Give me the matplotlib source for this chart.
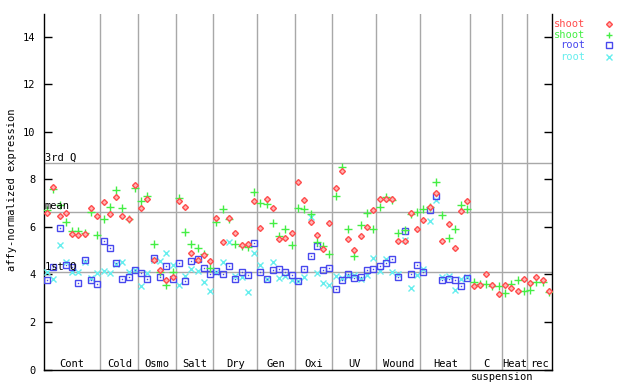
import numpy as np
import matplotlib
matplotlib.use("Agg")
import matplotlib.pyplot as plt
from matplotlib.lines import Line2D
from matplotlib.transforms import blended_transform_factory

# group labels and sizes (number of samples per group)
groups = ["Cont", "Cold", "Osmo", "Salt", "Dry", "Gen", "Oxi", "UV",
          "Wound", "Heat", "C", "Heat", "rec"]
group_sizes = [9, 6, 6, 6, 7, 6, 6, 7, 7, 8, 5, 4, 4]

# quartile / mean reference lines
stat_names = ["3rd Q", "mean", "1st Q"]
stat_values = [8.67, 6.61, 4.09]

shoot_red = [6.57, 7.67, 6.44, 6.57, 5.70, 5.67, 5.70, 6.80, 6.45,
             7.03, 6.54, 7.24, 6.45, 6.31, 7.76,
             6.78, 7.16, 4.60, 4.18, 3.76, 3.89,
             7.07, 6.82, 4.88, 4.60, 4.80, 4.55,
             6.36, 5.35, 6.38, 5.73, 5.22, 5.26, 7.07,
             5.94, 7.16, 6.78, 5.47, 5.52, 5.73,
             7.87, 7.12, 6.20, 5.64, 5.05, 6.15,
             7.62, 8.33, 5.47, 5.01, 5.60, 5.98, 6.69,
             7.16, 7.16, 7.16, 5.39, 5.39, 6.57, 5.89,
             6.27, 6.83, 7.41, 5.39, 6.10, 5.10, 6.65, 7.08,
             3.53, 3.57, 4.00, 3.57, 3.16,
             3.54, 3.41, 3.29, 3.79,
             3.62, 3.88, 3.75, 3.29]

shoot_green = [6.71, 7.60, 6.90, 6.20, 5.84, 5.82, 5.73, 6.62, 5.64,
               6.31, 6.82, 7.53, 6.78, 6.34, 7.62,
               7.07, 7.28, 5.26, 4.11, 3.54, 4.11,
               7.20, 5.77, 5.26, 5.10, 4.84, 4.25,
               6.20, 6.74, 6.31, 5.26, 5.18, 5.14, 7.45,
               6.99, 6.95, 6.15, 5.61, 5.89, 5.22,
               6.78, 6.74, 6.52, 5.35, 5.18, 4.84,
               7.28, 8.50, 5.89, 4.76, 6.06, 6.57, 5.89,
               6.82, 7.24, 7.11, 5.73, 5.85, 6.52, 6.61,
               6.74, 6.85, 7.87, 6.48, 5.52, 5.89, 6.90, 6.74,
               3.67, 3.58, 3.58, 3.50, 3.50,
               3.20, 3.58, 3.75, 3.29,
               3.33, 3.67, 3.67, 3.25]

root_blue = [3.76, 4.30, 5.94, 4.38, 4.30, 3.62, 4.59, 3.75, 3.58,
             5.40, 5.12, 4.49, 3.79, 3.88, 4.17,
             4.04, 3.79, 4.67, 3.88, 4.34, 3.79,
             4.47, 3.71, 4.55, 4.63, 4.25, 4.00,
             4.13, 4.00, 4.34, 3.79, 4.09, 3.96, 5.31,
             4.09, 3.79, 4.17, 4.21, 4.09, 3.96,
             3.71, 4.21, 4.76, 5.18, 4.17, 4.25,
             3.37, 3.75, 4.00, 3.83, 3.88, 4.17, 4.21,
             4.34, 4.47, 4.63, 3.88, 5.81, 4.00, 4.38,
             4.09, 6.69, 7.28, 3.75, 3.79, 3.75, 3.50, 3.83]

root_cyan = [4.10, 3.80, 5.23, 4.51, 4.11, 4.11, 4.51, 3.85, 4.04,
             4.15, 4.05, 4.45, 4.51, 4.11, 4.17,
             3.51, 4.04, 4.62, 4.55, 4.88, 4.38,
             3.54, 3.93, 4.21, 4.13, 3.67, 3.29,
             4.09, 4.51, 5.35, 3.92, 3.88, 3.25, 4.88,
             4.38, 3.79, 4.51, 3.83, 3.92, 3.75,
             3.71, 3.88, 6.43, 4.04, 3.62, 3.54,
             3.92, 3.85, 3.92, 3.96, 3.79, 3.96, 4.67,
             4.13, 4.63, 4.09, 4.00, 5.43, 3.41, 3.96,
             4.21, 6.23, 7.11, 3.88, 3.92, 3.33, 3.79, 3.88]

RED = "#ff4c4c"
GREEN = "#44ee44"
BLUE = "#4848ee"
CYAN = "#66eeee"
GRID = "#a8a8a8"
RED_FILL = "#ffb4b4"

plt.rcParams["font.family"] = ["DejaVu Sans Mono"]
plt.rcParams["font.size"] = 7.5

fig = plt.figure(figsize=(6.4, 3.84), dpi=100)
ax = fig.add_axes([44 / 640, 1 - 369.5 / 384, 508 / 640, 355.5 / 384])

n = len(shoot_red)
x_all = np.arange(n)
x_root = np.arange(len(root_blue))

# group separators
bounds = np.cumsum(group_sizes)[:-1]
for b in bounds:
    ax.axvline(b - 0.5, color=GRID, lw=1, zorder=1)

# stats lines
for name, val in zip(stat_names, stat_values):
    ax.axhline(val, color=GRID, lw=1, zorder=1)
    ax.text(-0.35, val + 0.04, name, ha="left", va="bottom", fontsize=7.5, zorder=5)

ax.plot(x_root, root_cyan, ls="none", marker="x", ms=4, mew=1, color=CYAN, zorder=3)
ax.plot(x_root, root_blue, ls="none", marker="s", ms=4, mew=1, mfc="none", mec=BLUE, zorder=3)
ax.plot(x_root, root_blue, ls="none", marker="s", ms=1, mew=0, color=BLUE, zorder=3)
ax.plot(x_all, shoot_green, ls="none", marker="+", ms=5.5, mew=1, color=GREEN, zorder=4)
ax.plot(x_all, shoot_red, ls="none", marker="D", ms=3, mew=1, mfc=RED_FILL, mec=RED, zorder=4)

ax.set_xlim(-0.5, n - 0.5)
ax.set_ylim(0, 14.95)
ax.set_xticks([])
ax.set_yticks(np.arange(0, 15, 2))
ax.tick_params(axis="y", direction="in", length=6, width=1, left=True, right=True, pad=6)
ax.spines["top"].set_visible(False)
for s in ["left", "right", "bottom"]:
    ax.spines[s].set_linewidth(1)

# group labels inside the bottom of the plot
trans = blended_transform_factory(ax.transData, ax.transAxes)
starts = np.concatenate([[0], bounds])
ends = np.cumsum(group_sizes) - 1
for g, s, e in zip(groups, starts, ends):
    ax.text((s + e) / 2, 0.016, g, transform=trans, ha="center", va="center", fontsize=7.5)
ax.text(bounds[-2] - 0.5, -0.022, "suspension", transform=trans,
        ha="center", va="center", fontsize=7.5)

fig.text(12 / 640, 1 - 190 / 384, "affy-normalized expression", rotation=90,
         ha="center", va="center", fontsize=7.5)

# legend at the top right, outside the axes
leg_names = ["shoot", "shoot", "root", "root"]
leg_colors = [RED, GREEN, BLUE, CYAN]
leg_markers = ["D", "+", "s", "x"]
leg_rows = [24, 34.7, 45.3, 56.7]
for name, col, mk, yp in zip(leg_names, leg_colors, leg_markers, leg_rows):
    yf = 1 - yp / 384
    fig.text(585 / 640, yf, name, color=col, ha="right", va="center", fontsize=7.5)
    if mk == "D":
        kw = dict(ms=3, mfc=RED_FILL, mec=col)
    elif mk == "s":
        kw = dict(ms=4, mfc="none", mec=col)
    else:
        kw = dict(ms=4.5, color=col)
    fig.add_artist(Line2D([609 / 640], [yf], ls="none", marker=mk, mew=1,
                          transform=fig.transFigure, **kw))

fig.savefig("out.png", dpi=100)
